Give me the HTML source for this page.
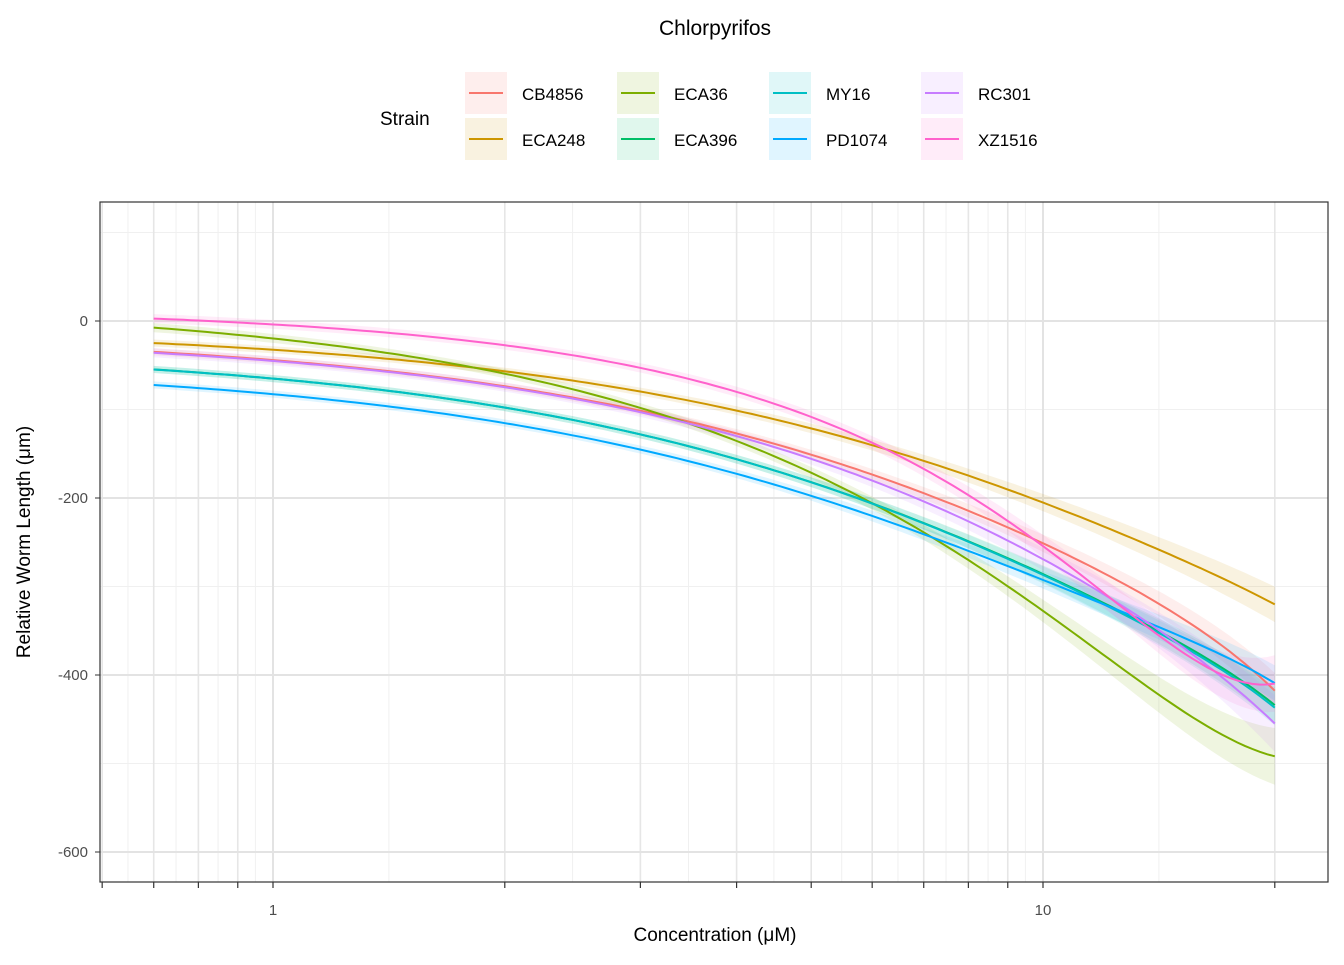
<!DOCTYPE html>
<html><head><meta charset="utf-8"><style>
body{margin:0;background:#fff;font-family:"Liberation Sans",Arial,sans-serif}
svg text{font-family:"Liberation Sans",Arial,sans-serif}
</style></head><body>
<svg id="chart" width="1344" height="960" xmlns="http://www.w3.org/2000/svg">
<rect width="1344" height="960" fill="#fff"/>
<text x="715" y="35" font-size="21" text-anchor="middle" fill="#000">Chlorpyrifos</text>
<g id="legend"><text x="380" y="125" font-size="19" fill="#000">Strain</text></g>
<g id="grid"></g>
<g id="ribbons"></g>
<g id="lines"></g>
<rect x="100" y="202" width="1228" height="680" fill="none" stroke="#333" stroke-width="1.2"/>
<g id="axes"></g>
<text x="715" y="941" font-size="19" text-anchor="middle" fill="#000">Concentration (μM)</text>
<text transform="translate(30,542) rotate(-90)" font-size="19" text-anchor="middle" fill="#000">Relative Worm Length (μm)</text>
</svg>
<script>
const conc=[0.7,1,2,3,4,5,6,8,10,14.1,20];
const strains=["CB4856","ECA248","ECA36","ECA396","MY16","PD1074","RC301","XZ1516"];
const colors=["#F8766D","#CD9600","#7CAE00","#00BE67","#00BFC4","#00A9FF","#C77CFF","#FF61CC"];
const vCB4856=[-34,-43,-74,-104,-128,-149,-176,-216,-244,-323,-417];
const vECA248=[-24,-33,-57,-80,-101,-123,-140,-174,-204,-259,-320];
const vECA36=[-13,-22,-53,-97,-128,-168,-213,-278,-327,-417,-493];
const vECA396=[-51,-65,-99,-132,-160,-180,-206,-248,-280,-355,-433];
const vMY16=[-51,-65,-99,-132,-160,-180,-207,-248,-281,-357,-436];
const vPD1074=[-67,-82,-120,-149,-175,-197,-220,-257,-287,-351,-408];
const vRC301=[-34,-44,-76,-107,-131,-153,-182,-228,-262,-353,-454];
const vXZ1516=[-3,-6,-23,-47,-76,-105,-142,-206,-255,-349,-411];
const seCB=[4,4,4,5,5,5,6,8,10,14,20];
const seWide=[5,5,5,6,6,6,7,10,13,20,32];
const series=[vCB4856,vECA248,vECA36,vECA396,vMY16,vPD1074,vRC301,vXZ1516];
const ses=[seCB,seCB,seWide,seCB,seCB,seCB,seWide,seWide];
const yTicks=[0,-200,-400,-600];
const yMinor=[100,-100,-300,-500];
const xMajor=[1,10];
const xMinor=[0.6,0.7,0.8,0.9,2,3,4,5,6,7,8,9,20];

const X=c=>273+770*Math.log10(c);
const Y=v=>321-0.885*v;
const NS="http://www.w3.org/2000/svg";
function mk(tag,attrs,parent){const e=document.createElementNS(NS,tag);for(const k in attrs)e.setAttribute(k,attrs[k]);parent.appendChild(e);return e;}
const grid=document.getElementById('grid'),axes=document.getElementById('axes');
yMinor.forEach(v=>{const l=mk('line',{x1:100,x2:1328,y1:Y(v),y2:Y(v),stroke:'#f0f0f0','stroke-width':1},grid);});
const allB=xMajor.concat(xMinor).sort((a,b)=>a-b);const xThin=[];
for(let i=0;i<allB.length-1;i++)xThin.push(Math.sqrt(allB[i]*allB[i+1]));xThin.push(allB[0]*allB[0]/allB[1]);xThin.push(20*20/10);
xThin.forEach(c=>{if(X(c)<100||X(c)>1328)return;const l=mk('line',{x1:X(c),x2:X(c),y1:202,y2:882,stroke:'#f0f0f0','stroke-width':1},grid);});
xMinor.forEach(c=>{const l=mk('line',{x1:X(c),x2:X(c),y1:202,y2:882,stroke:'#e6e6e6','stroke-width':1.6},grid);});
xMajor.forEach(c=>{const l=mk('line',{x1:X(c),x2:X(c),y1:202,y2:882,stroke:'#e3e3e3','stroke-width':2},grid);});
yTicks.forEach(v=>{const l=mk('line',{x1:100,x2:1328,y1:Y(v),y2:Y(v),stroke:'#e3e3e3','stroke-width':2},grid);
const t=mk('text',{x:88,y:Y(v)+5,'font-size':15,'text-anchor':'end',fill:'#4d4d4d'},axes);t.textContent=v;
mk('line',{x1:95,x2:100,y1:Y(v),y2:Y(v),stroke:'#333'},axes);});
xMajor.concat(xMinor).forEach(c=>{const l=mk('line',{x1:X(c),x2:X(c),y1:882,y2:888,stroke:'#333','stroke-width':1.2},axes);});
xMajor.forEach(c=>{const t=mk('text',{x:X(c),y:915,'font-size':15,'text-anchor':'middle',fill:'#4d4d4d'},axes);t.textContent=c;});
// least-squares cubic polynomial in concentration (smooth fit)
function fit(vals){const n=4,A=[],b=[];for(let i=0;i<n;i++){A.push(new Array(n).fill(0));b.push(0);}
conc.forEach((c,j)=>{const u=c/10;for(let r=0;r<n;r++){b[r]+=vals[j]*Math.pow(u,r);for(let k=0;k<n;k++)A[r][k]+=Math.pow(u,r+k);}});
for(let i=0;i<n;i++){let p=i;for(let r=i+1;r<n;r++)if(Math.abs(A[r][i])>Math.abs(A[p][i]))p=r;[A[i],A[p]]=[A[p],A[i]];[b[i],b[p]]=[b[p],b[i]];
for(let r=0;r<n;r++)if(r!==i){const f=A[r][i]/A[i][i];for(let k=i;k<n;k++)A[r][k]-=f*A[i][k];b[r]-=f*b[i];}}
const co=b.map((v,i)=>v/A[i][i]);return c=>co.reduce((s,k,i)=>s+k*Math.pow(c/10,i),0);}
const u0=Math.log10(conc[0]),u1=Math.log10(conc[conc.length-1]);const N=150;const cs=[];for(let k=0;k<=N;k++)cs.push(Math.pow(10,u0+(u1-u0)*k/N));
const path=pts=>'M'+pts.map(p=>p[0].toFixed(1)+','+p[1].toFixed(1)).join(' L');
const rib=document.getElementById('ribbons'),lines=document.getElementById('lines');
series.forEach((vals,i)=>{const f=fit(vals),g=fit(ses[i]);
const up=cs.map(c=>[X(c),Y(f(c)+g(c))]),lo=cs.map(c=>[X(c),Y(f(c)-g(c))]).reverse();
const r=mk('path',{d:path(up.concat(lo))+' Z',fill:colors[i],'fill-opacity':0.12},rib);

const p=mk('path',{d:path(cs.map(c=>[X(c),Y(f(c))])),fill:'none',stroke:colors[i],'stroke-width':2},lines);
});
const leg=document.getElementById('legend');
strains.forEach((s,i)=>{const col=Math.floor(i/2),row=i%2;const x=465+col*152,y=72+row*46;
const g=mk('g',{},leg);
mk('rect',{x:x,y:y,width:42,height:42,fill:colors[i],'fill-opacity':0.12},g);
mk('line',{x1:x+4,x2:x+38,y1:y+21,y2:y+21,stroke:colors[i],'stroke-width':2},g);
const t=mk('text',{x:x+57,y:y+28,'font-size':17,fill:'#000'},g);t.textContent=s;});
</script>
</body></html>
